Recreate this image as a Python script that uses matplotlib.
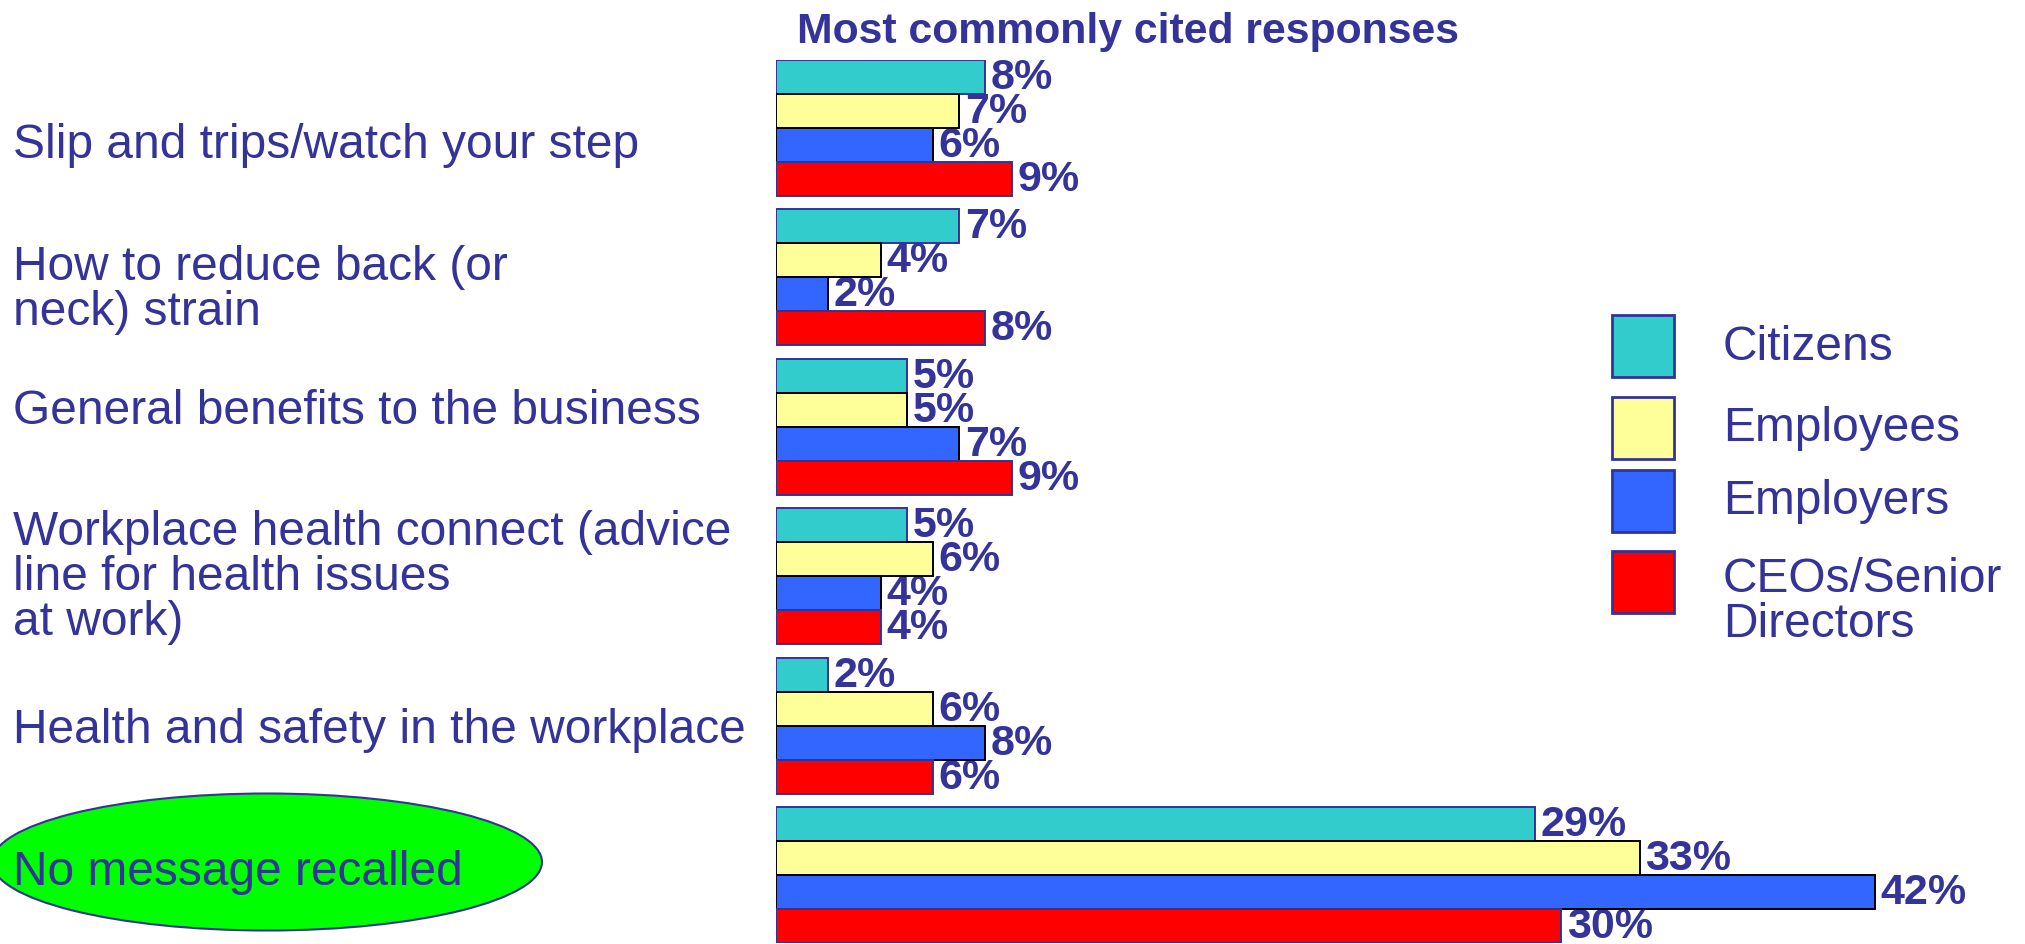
import matplotlib
matplotlib.use("Agg")
import matplotlib.pyplot as plt
import matplotlib.transforms as mtransforms
from matplotlib.patches import Rectangle, Ellipse

plt.rcParams['font.family'] = ['Liberation Sans', 'DejaVu Sans']

# data
categories = ["Slip and trips/watch your step",
              "How to reduce back (or\nneck) strain",
              "General benefits to the business",
              "Workplace health connect (advice\nline for health issues\nat work)",
              "Health and safety in the workplace",
              "No message recalled"]
series_names = ["Citizens", "Employees", "Employers", "CEOs/Senior\nDirectors"]
citizens = [8, 7, 5, 5, 2, 29]
employees = [7, 4, 5, 6, 6, 33]
employers = [6, 2, 7, 4, 8, 42]
ceos = [9, 8, 9, 4, 6, 30]

# styles
TXT = '#333399'
FILLS = ['#33CCCC', '#FFFF99', '#3366FF', '#FF0000']
EDGES = [TXT, 'black', 'black', TXT]
W, H = 2025, 945
GROUP_STEP = 4.4

fig = plt.figure(figsize=(W / 100, H / 100), dpi=100)
fig.patch.set_facecolor('white')

# bars area: x=0 at px 776, 26.17 px per percent
ax = fig.add_axes([776 / W, 1 / H, 47 * 26.17 / W, 883 / H])
ax.set_xlim(0, 47)
ax.set_ylim(26, 0)
ax.axis('off')

all_series = [citizens, employees, employers, ceos]
for j, vals in enumerate(all_series):
    ys = [i * GROUP_STEP + j + 0.5 for i in range(len(vals))]
    ax.barh(ys, vals, height=1.0, color=FILLS[j], edgecolor=EDGES[j],
            linewidth=1.4, zorder=3)
    for v, y in zip(vals, ys):
        ax.annotate("%d%%" % v, (v, y), xytext=(4, 0), textcoords='offset points',
                    ha='left', va='center', fontsize=31, fontweight='bold',
                    color=TXT, zorder=1, annotation_clip=False)

# category labels on the left
trans = mtransforms.blended_transform_factory(fig.transFigure, ax.transData)
nudge = [0.5, 0.35, -0.48, 0.0, 0.12, -0.1]
for i, cat in enumerate(categories):
    yc = i * GROUP_STEP + 2.0 + nudge[i]
    ax.text(13 / W, yc, cat, transform=trans, ha='left', va='center',
            fontsize=34.5, color=TXT, linespacing=1.0, zorder=6)

# green ellipse behind "No message recalled"
ell = Ellipse((267 / W, 1 - 863 / H), 550 / W, 137 / H, transform=fig.transFigure,
              facecolor='#00FF00', edgecolor=TXT, linewidth=1.5, zorder=0)
fig.add_artist(ell)
ax.set_zorder(2)

# title
fig.text(1128 / W, 1 - 43 / H, "Most commonly cited responses", ha='center',
         va='baseline', fontsize=30.8, fontweight='bold', color=TXT)

# legend drawn by hand
sq_tops = [316, 398, 471, 552]
for k, name in enumerate(series_names):
    top = sq_tops[k]
    fig.add_artist(Rectangle((1612 / W, 1 - (top + 62) / H), 62 / W, 62 / H,
                             transform=fig.transFigure, facecolor=FILLS[k],
                             edgecolor=TXT, linewidth=2))
    yc = top + 31
    if "\n" in name:
        yc += 19
    fig.text(1723 / W, 1 - yc / H, name, ha='left', va='center', fontsize=34.5,
             color=TXT, linespacing=1.0)

fig.savefig("out.png", dpi=100, facecolor='white')
